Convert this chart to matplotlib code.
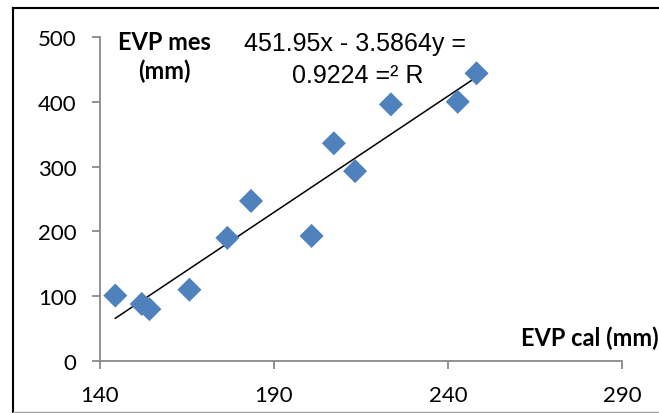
import numpy as np
import matplotlib
matplotlib.use("Agg")
import matplotlib.pyplot as plt
from matplotlib.lines import Line2D

evp_cal = [144.4, 152.0, 154.2, 165.7, 176.6, 183.4, 200.8, 207.2, 213.3, 223.6, 242.8, 248.2]
evp_mes = [101, 88, 80, 110, 190, 247, 193, 336, 293, 396, 400, 444]

# trendline coefficients as printed on the chart
slope = 3.5864
intercept = -451.95
eq_lines = ["451.95x - 3.5864y =", "0.9224 =\u00b2 R"]

x_ticks = [140, 190, 240, 290]
y_ticks = [0, 100, 200, 300, 400, 500]

W, H = 659, 414
fig = plt.figure(figsize=(W / 100, H / 100), dpi=100)

def fx(px):
    return px / W

def fy(py):
    return 1 - py / H

# plot area in pixels: x 100..622, y 38..362
ax = fig.add_axes([fx(100), fy(362), fx(622) - fx(100), fy(38) - fy(362)])

ax.scatter(evp_cal, evp_mes, marker="D", s=150, color="#4F81BD",
           edgecolors="none", zorder=3)

xt = np.array([min(evp_cal), max(evp_cal)])
ax.plot(xt, slope * xt + intercept, color="black", lw=1.1, zorder=2)

ax.set_xlim(140, 290)
ax.set_ylim(0, 500)
ax.set_xticks(x_ticks)
ax.set_yticks(y_ticks)

gray = "#898989"
for side in ["top", "right"]:
    ax.spines[side].set_visible(False)
for side in ["left", "bottom"]:
    ax.spines[side].set_color(gray)
    ax.spines[side].set_linewidth(1.3)
ax.tick_params(axis="both", direction="out", length=6, width=1.3, color=gray,
               labelsize=16, labelcolor="black")
ax.tick_params(axis="y", pad=11)
ax.tick_params(axis="x", pad=11)
for lab in ax.get_xticklabels() + ax.get_yticklabels():
    lab.set_family("Lato")

# axis titles placed inside the plot like the original
fig.text(fx(164), fy(57), "EVP mes\n(mm)", ha="center", va="center",
         fontsize=17, fontweight="bold", family="Lato", linespacing=1.25)
fig.text(fx(590), fy(338), "EVP cal (mm)", ha="center", va="center",
         fontsize=17, fontweight="bold", family="Lato")

# trendline equation
fig.text(fx(355), fy(44), eq_lines[0], ha="center", va="center",
         fontsize=18, family="Liberation Sans")
fig.text(fx(358), fy(76), eq_lines[1], ha="center", va="center",
         fontsize=18, family="Liberation Sans")

# chart frame (cropped on the right)
fig.add_artist(Line2D([fx(12.5), 1], [fy(8.5), fy(8.5)], color="black", lw=1.5))
fig.add_artist(Line2D([fx(12.5), fx(12.5)], [fy(8.5), 0], color="black", lw=1.5))
fig.add_artist(Line2D([fx(12.5), 1], [fy(412.5), fy(412.5)], color="#a0a0a0", lw=1))

fig.savefig("out.png", dpi=100)
